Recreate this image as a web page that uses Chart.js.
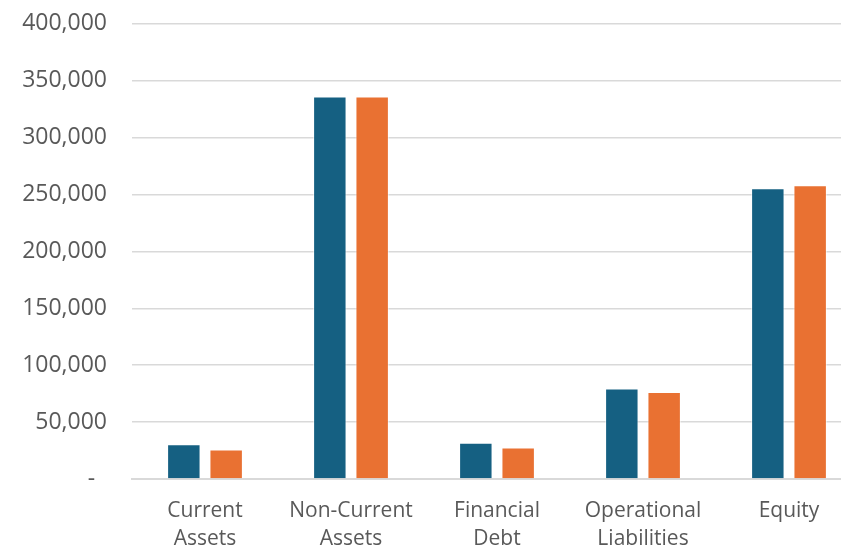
<!DOCTYPE html>
<html>
<head>
<meta charset="utf-8">
<script src="https://cdn.jsdelivr.net/npm/chart.js@4/dist/chart.umd.min.js"></script>
<style>
html,body{margin:0;padding:0;overflow:hidden;background:#fff;}
#wrap{position:relative;top:-15px;width:862px;height:561px;}
</style>
</head>
<body>
<div id="wrap"><canvas id="c"></canvas></div>
<script>
const categories = [["Current","Assets"],["Non-Current","Assets"],["Financial","Debt"],["Operational","Liabilities"],["Equity"]];
const series1 = [30600, 336100, 31800, 79600, 255600];
const series2 = [26000, 336100, 27700, 76400, 258200];
const yTicks = [0, 50000, 100000, 150000, 200000, 250000, 300000, 350000, 400000];

const FONT = "'Open Sans', sans-serif";
new Chart(document.getElementById('c'), {
  type: 'bar',
  data: {
    labels: categories,
    datasets: [
      {label: 'Series 1', data: series1, backgroundColor: '#156082', borderColor: 'rgba(255,255,255,0.6)', borderWidth: 1},
      {label: 'Series 2', data: series2, backgroundColor: '#E97132', borderColor: 'rgba(255,255,255,0.6)', borderWidth: 1}
    ]
  },
  options: {
    responsive: true,
    maintainAspectRatio: false,
    animation: false,
    categoryPercentage: 0.58,
    barPercentage: 0.79,
    layout: {padding: {top: 0, right: 0, left: 0, bottom: 0}},
    plugins: {legend: {display: false}, tooltip: {enabled: false}},
    scales: {
      x: {
        grid: {display: false},
        border: {color: '#d9d9d9', width: 2},
        ticks: {color: '#595959', font: {family: FONT, size: 21, lineHeight: 1.33}, padding: 10, maxRotation: 0, autoSkip: false},
        afterFit: s => { s.height = 67; }
      },
      y: {
        min: 0, max: 400000,
        afterBuildTicks: s => { s.ticks = yTicks.map(v => ({value: v})); },
        grid: {color: '#d9d9d9', lineWidth: 1.5, drawTicks: false},
        border: {display: false},
        ticks: {
          color: '#595959', font: {family: FONT, size: 23}, padding: 25,
          callback: v => v === 0 ? '-  ' : v.toLocaleString('en-US')
        },
        afterFit: s => { s.width = 132; }
      }
    }
  }
});
</script>
</body>
</html>
